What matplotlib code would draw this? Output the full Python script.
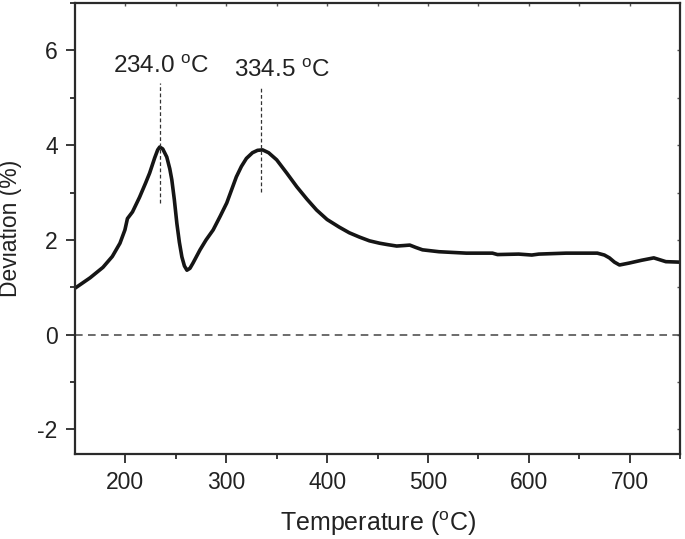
import matplotlib
matplotlib.use("Agg")
import matplotlib.pyplot as plt
import numpy as np

plt.rcParams['font.family'] = ['Liberation Sans', 'DejaVu Sans']
plt.rcParams['mathtext.fontset'] = 'custom'
plt.rcParams['mathtext.rm'] = 'Liberation Sans'
plt.rcParams['mathtext.it'] = 'Liberation Sans'
plt.rcParams['axes.unicode_minus'] = False

temperature = [150, 165, 177.7, 187, 194.6, 199.5, 202, 207, 214, 220, 224, 229, 232, 234,
               237, 241, 244, 246, 248.5, 251, 253.5, 256, 258.5, 261, 264, 267, 274, 280,
               287, 294, 300.5, 310, 315, 320, 326, 331, 336, 342, 350, 360, 370, 380,
               389.6, 400, 412, 422, 432, 442, 452, 460, 469, 476, 482, 488, 494.6, 511,
               538, 564, 569, 590, 603, 610, 637, 668, 675, 680, 685, 690, 699.5, 712,
               724, 730, 736, 750]
deviation = [0.98, 1.2, 1.42, 1.65, 1.93, 2.21, 2.45, 2.59, 2.9, 3.2, 3.41, 3.73, 3.9, 3.96,
             3.92, 3.75, 3.5, 3.27, 2.85, 2.35, 1.95, 1.64, 1.45, 1.36, 1.4, 1.51, 1.79, 2.0,
             2.21, 2.5, 2.78, 3.33, 3.55, 3.72, 3.84, 3.89, 3.9, 3.84, 3.69, 3.41, 3.12, 2.86,
             2.63, 2.43, 2.27, 2.15, 2.06, 1.98, 1.93, 1.9, 1.87, 1.88, 1.89, 1.84, 1.79, 1.75,
             1.72, 1.72, 1.69, 1.70, 1.68, 1.70, 1.72, 1.72, 1.68, 1.62, 1.53, 1.47, 1.51, 1.57,
             1.62, 1.58, 1.54, 1.53]

peak_temps = [234.0, 334.5]
peak_labels = ["234.0 $^{\\rm o}$C", "334.5 $^{\\rm o}$C"]
peak_line_ranges = [(2.78, 5.31), (3.01, 5.2)]
label_x = [187.5, 307.5]
label_y = [5.52, 5.43]

xticks = [200, 300, 400, 500, 600, 700]
yticks = [-2, 0, 2, 4, 6]
x_minor = [250, 350, 450, 550, 650, 750]
y_minor = [-1, 1, 3, 5, 7]

text_color = '#222222'
fig = plt.figure(figsize=(6.85, 5.39), dpi=100)
ax = fig.add_axes([0.1095, 0.1577, 0.8832, 0.8367])

ax.axhline(0, color='#444444', lw=1.1, ls=(0, (5, 3.5)))
ax.plot(temperature, deviation, color='#151515', lw=2.6, solid_capstyle='round',
        solid_joinstyle='round')

for t, (y0, y1), lab, lx, ly in zip(peak_temps, peak_line_ranges, peak_labels, label_x, label_y):
    ax.plot([t, t], [y0, y1], color='#333333', lw=0.9, ls=(0, (3, 2)))
    ax.text(lx, ly, lab, ha='left', va='baseline', fontsize=17.5, color=text_color)

ax.set_xlim(150, 750)
ax.set_ylim(-2.52, 7.0)
ax.set_xticks(xticks)
ax.set_yticks(yticks)
ax.set_xticks(x_minor, minor=True)
ax.set_yticks(y_minor, minor=True)

for s in ax.spines.values():
    s.set_linewidth(1.6)
    s.set_color('#2a2a2a')

ax.tick_params(which='major', direction='out', length=6.5, width=1.3, labelsize=16.5,
               colors='#2a2a2a', labelcolor=text_color, pad=6)
ax.tick_params(which='minor', direction='out', length=3.8, width=1.3, colors='#2a2a2a')

sec_x = ax.secondary_xaxis('top')
sec_x.set_xticks(xticks + x_minor[:-1])
sec_x.tick_params(direction='in', length=2, width=1, labeltop=False, colors='#555555')
sec_y = ax.secondary_yaxis('right')
sec_y.set_yticks(yticks + y_minor[:-1])
sec_y.tick_params(direction='in', length=2, width=1, labelright=False, colors='#555555')
for s in list(sec_x.spines.values()) + list(sec_y.spines.values()):
    s.set_visible(False)

ax.set_xlabel("Temperature ($^{\\rm o}$C)", fontsize=18, color=text_color, labelpad=11)
ax.set_ylabel("Deviation (%)", fontsize=16.5, color=text_color, va='center')
ax.yaxis.set_label_coords(-0.106, 0.5)

fig.savefig("out.png", dpi=100)
